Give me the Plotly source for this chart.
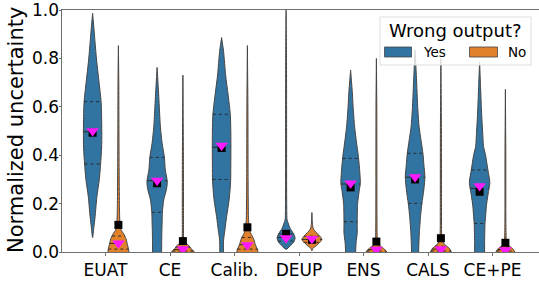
import numpy as np
import plotly.graph_objects as go

categories = ["EUAT", "CE", "Calib.", "DEUP", "ENS", "CALS", "CE+PE"]
groups = ["Yes", "No"]
y_ticks = [0.0, 0.2, 0.4, 0.6, 0.8, 1.0]

# density profiles (levels of normalized uncertainty, relative half-width of the KDE)
yes_levels = [
    [0.059, 0.10, 0.146, 0.229, 0.30, 0.364, 0.43, 0.497, 0.56, 0.621, 0.70, 0.793, 0.89, 0.95, 0.987],
    [0.0, 0.04, 0.078, 0.12, 0.164, 0.215, 0.256, 0.29, 0.339, 0.391, 0.45, 0.518, 0.6, 0.656, 0.72, 0.763],
    [0.0, 0.05, 0.09, 0.146, 0.215, 0.29, 0.36, 0.433, 0.50, 0.569, 0.65, 0.731, 0.828, 0.886],
    [0.011, 0.025, 0.04, 0.057, 0.075, 0.098, 0.12, 0.132, 0.2, 0.5, 0.8, 1.0],
    [0.0, 0.04, 0.077, 0.125, 0.2, 0.25, 0.284, 0.33, 0.394, 0.45, 0.518, 0.6, 0.656, 0.71, 0.752],
    [0.0, 0.077, 0.15, 0.2, 0.26, 0.311, 0.36, 0.408, 0.46, 0.518, 0.6, 0.656, 0.75, 0.835],
    [0.0, 0.04, 0.118, 0.146, 0.187, 0.24, 0.284, 0.298, 0.339, 0.40, 0.435, 0.5, 0.573, 0.68, 0.786],
]
yes_density = [
    [0.0, 1.2, 2.5, 4.3, 6.7, 8.0, 9.0, 9.2, 9.0, 8.5, 6.5, 4.0, 2.0, 0.8, 0.0],
    [4.5, 4.6, 4.7, 5.0, 5.3, 6.6, 9.2, 10.2, 8.2, 7.3, 5.0, 3.3, 2.2, 1.5, 0.6, 0.0],
    [1.8, 2.0, 3.3, 5.0, 7.5, 9.0, 9.2, 9.3, 9.2, 8.7, 6.5, 4.0, 2.0, 0.0],
    [0.0, 4.0, 7.5, 9.0, 7.5, 4.0, 2.0, 1.0, 0.6, 0.5, 0.4, 0.0],
    [5.0, 5.5, 6.6, 6.6, 7.0, 8.5, 9.7, 9.2, 7.8, 6.0, 4.0, 2.5, 1.8, 0.8, 0.0],
    [3.5, 4.2, 5.5, 6.8, 8.8, 9.8, 8.8, 7.8, 6.0, 4.0, 2.6, 2.0, 1.0, 0.0],
    [5.0, 5.0, 5.4, 6.0, 6.7, 8.5, 10.2, 10.0, 8.3, 6.0, 4.0, 3.0, 2.0, 1.0, 0.0],
]
no_levels = [
    [0.0, 0.008, 0.036, 0.056, 0.077, 0.09, 0.11, 0.14, 0.2, 0.35, 0.55, 0.7, 0.853],
    [0.0, 0.015, 0.028, 0.04, 0.06, 0.15, 0.4, 0.731],
    [0.0, 0.008, 0.03, 0.05, 0.065, 0.08, 0.1, 0.13, 0.3, 0.6, 0.853],
    [0.005, 0.015, 0.025, 0.04, 0.052, 0.065, 0.08, 0.095, 0.11, 0.163],
    [0.0, 0.012, 0.025, 0.04, 0.08, 0.3, 0.6, 0.80],
    [0.0, 0.015, 0.03, 0.045, 0.07, 0.2, 0.5, 0.80],
    [0.0, 0.015, 0.028, 0.04, 0.08, 0.4, 0.672],
]
no_density = [
    [10.5, 10.3, 8.7, 7.5, 5.0, 2.8, 1.8, 1.3, 1.0, 0.7, 0.5, 0.4, 0.0],
    [11.5, 8.0, 5.7, 1.5, 0.7, 0.6, 0.5, 0.0],
    [10.5, 10.3, 8.0, 6.5, 5.0, 3.0, 2.0, 1.2, 0.7, 0.5, 0.0],
    [0.0, 1.0, 4.0, 8.0, 10.0, 8.0, 4.5, 1.5, 0.7, 0.0],
    [10.5, 8.0, 4.0, 1.2, 0.7, 0.5, 0.4, 0.0],
    [10.5, 8.5, 4.0, 1.5, 0.8, 0.6, 0.5, 0.0],
    [9.5, 7.0, 3.0, 1.2, 0.6, 0.4, 0.0],
]

# quartiles (q1, median, q3)
yes_quartiles = [
    [0.364, 0.497, 0.621], [0.164, 0.295, 0.391], [0.30, 0.433, 0.569],
    [0.045, 0.06, 0.075], [0.125, 0.281, 0.387], [0.201, 0.309, 0.408],
    [0.118, 0.263, 0.339],
]
no_quartiles = [
    [0.012, 0.035, 0.066], [0.004, 0.01, 0.02], [0.012, 0.03, 0.06],
    [0.04, 0.052, 0.065], [0.004, 0.01, 0.02], [0.004, 0.012, 0.024],
    [0.004, 0.01, 0.02],
]

# black squares and magenta triangles
yes_square = [0.493, 0.284, 0.43, 0.075, 0.267, 0.30, 0.249]
no_square = [0.112, 0.045, 0.102, 0.05, 0.043, 0.057, 0.038]
yes_triangle = [0.50, 0.295, 0.44, 0.058, 0.284, 0.31, 0.273]
no_triangle = [0.036, 0.012, 0.029, 0.055, 0.01, 0.012, 0.008]

COLORS = {"Yes": "#3274a1", "No": "#e1812c"}
OFFSET = {"Yes": -0.2, "No": 0.2}
PX_PER_UNIT = 64.5
EDGE = "#454545"

fig = go.Figure()

def add_violin(pos, levels, dens, color):
    lv = np.array(levels, dtype=float)
    hw = np.array(dens, dtype=float) / PX_PER_UNIT
    xs = np.concatenate([pos + hw, (pos - hw)[::-1]])
    ys = np.concatenate([lv, lv[::-1]])
    fig.add_trace(go.Scatter(
        x=xs, y=ys, mode="lines", fill="toself", fillcolor=color,
        line=dict(color=EDGE, width=1, shape="spline", smoothing=0.7),
        hoverinfo="skip", showlegend=False))

def add_quartiles(pos, levels, dens, qs):
    lv = np.array(levels, dtype=float)
    hw = np.array(dens, dtype=float) / PX_PER_UNIT
    for k, q in enumerate(qs):
        w = float(np.interp(q, lv, hw))
        fig.add_trace(go.Scatter(
            x=[pos - w, pos + w], y=[q, q], mode="lines",
            line=dict(color="#2a2a2a", width=1, dash="dot" if k != 1 else "dash"),
            hoverinfo="skip", showlegend=False))

for i in range(len(categories)):
    add_violin(i + OFFSET["Yes"], yes_levels[i], yes_density[i], COLORS["Yes"])
    add_violin(i + OFFSET["No"], no_levels[i], no_density[i], COLORS["No"])
for i in range(len(categories)):
    add_quartiles(i + OFFSET["Yes"], yes_levels[i], yes_density[i], yes_quartiles[i])
    add_quartiles(i + OFFSET["No"], no_levels[i], no_density[i], no_quartiles[i])

xs_yes = [i + OFFSET["Yes"] for i in range(len(categories))]
xs_no = [i + OFFSET["No"] for i in range(len(categories))]
fig.add_trace(go.Scatter(x=xs_yes + xs_no, y=yes_square + no_square, mode="markers",
                         marker=dict(symbol="square", size=8, color="black"),
                         hoverinfo="skip", showlegend=False))
fig.add_trace(go.Scatter(x=xs_yes + xs_no, y=yes_triangle + no_triangle, mode="markers",
                         marker=dict(symbol="triangle-down", size=11, color="#ff19ff",
                                     line=dict(width=0)),
                         hoverinfo="skip", showlegend=False))

W, H = 539, 299
L, T, B = 62, 10, 47
PW, PH = W - L, H - T - B

def px(X):
    return (X - L) / PW

def py(Y):
    return (H - B - Y) / PH

shapes = [
    dict(type="rect", xref="paper", yref="paper", x0=px(380), x1=px(531), y0=py(65), y1=py(17),
         fillcolor="rgba(255,255,255,0.8)", line=dict(color="#dddddd", width=1)),
    dict(type="rect", xref="paper", yref="paper", x0=px(384.5), x1=px(411.5), y0=py(57), y1=py(47),
         fillcolor=COLORS["Yes"], line=dict(color="#454545", width=0.8)),
    dict(type="rect", xref="paper", yref="paper", x0=px(469.5), x1=px(497.5), y0=py(57), y1=py(47),
         fillcolor=COLORS["No"], line=dict(color="#454545", width=0.8)),
]
annotations = [
    dict(text="Wrong output?", xref="paper", yref="paper", x=px(455.5), y=py(30.5),
         xanchor="center", yanchor="middle", showarrow=False, font=dict(size=18, color="black")),
    dict(text=groups[0], xref="paper", yref="paper", x=px(421), y=py(52),
         xanchor="left", yanchor="middle", showarrow=False, font=dict(size=13.5, color="black")),
    dict(text=groups[1], xref="paper", yref="paper", x=px(506), y=py(52),
         xanchor="left", yanchor="middle", showarrow=False, font=dict(size=13.5, color="black")),
    dict(text="Normalized uncertainty", xref="paper", yref="paper", x=px(16), y=py(130),
         xanchor="center", yanchor="middle", textangle=-90, showarrow=False,
         font=dict(size=21, color="black")),
]
for v in y_ticks:
    annotations.append(dict(text=f"{v:.1f}", xref="paper", yref="y", x=px(61), y=v,
                            xanchor="right", yanchor="middle", showarrow=False,
                            font=dict(size=17, color="black")))

fig.update_layout(
    width=W, height=H,
    margin=dict(l=L, r=0, t=T, b=B, pad=0, autoexpand=False),
    paper_bgcolor="white", plot_bgcolor="white",
    font=dict(family="DejaVu Sans", color="black"),
    showlegend=False,
    shapes=shapes, annotations=annotations,
    xaxis=dict(range=[(L - 105.5) / PX_PER_UNIT, (W - 105.5) / PX_PER_UNIT],
               tickvals=list(range(len(categories))), ticktext=categories,
               tickfont=dict(size=17), showgrid=False, zeroline=False,
               showline=True, linecolor="#707070", linewidth=1, mirror=True,
               ticks="outside", ticklen=3, tickcolor="#707070", automargin=False),
    yaxis=dict(range=[0, 1.0001], tickvals=y_ticks, showticklabels=False,
               showgrid=False, zeroline=False,
               showline=True, linecolor="#707070", linewidth=1,
               ticks="outside", ticklen=2, tickcolor="#707070", automargin=False),
)

fig.write_html("out.html", config={"displayModeBar": False},
               post_script="document.body.style.margin='0';document.body.style.overflow='hidden';")
